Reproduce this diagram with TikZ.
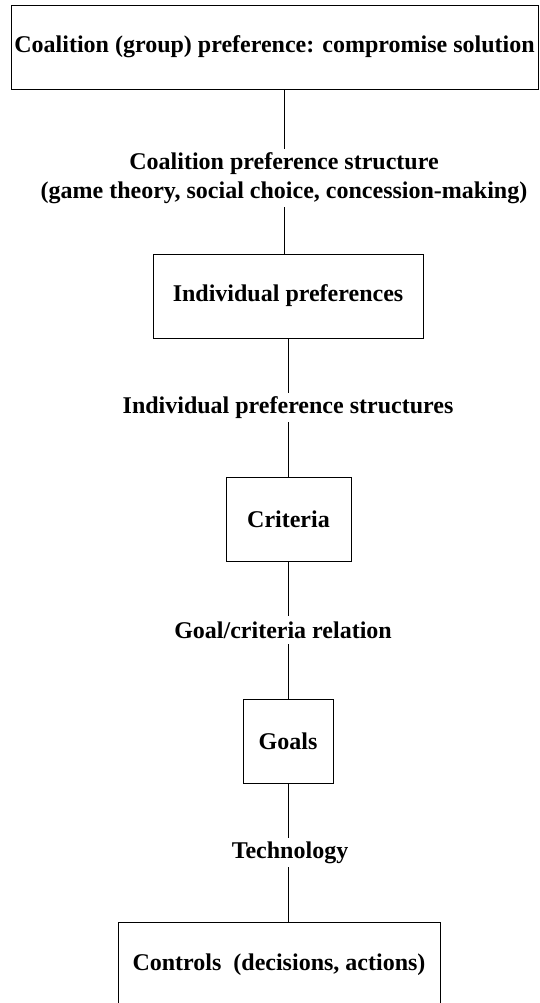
\documentclass[tikz,border=0pt]{standalone}
\usepackage{fontspec}
\setmainfont{Liberation Serif}
\usepackage{tikz}

\tikzset{
    box/.style={draw, line width=0.9pt, inner sep=0pt, minimum height=84pt},
    lbl/.style={inner sep=0pt, align=center},
}

\begin{document}
\begin{tikzpicture}[x=1pt, y=-1pt, line width=0.9pt,
    font=\fontsize{24}{29}\selectfont\bfseries]
    \useasboundingbox (0,0) rectangle (539,1003);
    \node[box, minimum width=527pt] (coal)  at (274.5, 47) {Coalition (group) preference: compromise solution};
    \node[box, minimum width=270pt] (indiv) at (288,  296) {Individual preferences};
    \node[box, minimum width=125pt] (crit)  at (288.5,519) {Criteria};
    \node[box, minimum width= 90pt] (goal)  at (288,  741) {Goals};
    \node[box, minimum width=322pt, minimum height=86pt] (ctrl) at (279, 965) {Controls~~(decisions, actions)};
    \node[lbl, minimum height=58pt] (cstruct) at (284, 178) {Coalition preference structure\\(game theory, social choice, concession-making)};
    \node[lbl, minimum height=29pt] (istruct) at (288, 407.5) {Individual preference structures};
    \node[lbl, minimum height=28pt] (relat)   at (283, 630) {Goal/criteria relation};
    \node[lbl, minimum height=29pt] (tech)    at (290, 852.5) {Technology};
    \draw (cstruct.north) -- (cstruct.north |- coal.south);
    \draw (cstruct.south) -- (cstruct.south |- indiv.north);
    \draw (indiv.south) -- (indiv.south |- istruct.north);
    \draw (indiv.south |- istruct.south) -- (crit.north -| indiv.south);
    \draw (crit.south) -- (crit.south |- relat.north);
    \draw (crit.south |- relat.south) -- (crit.south |- goal.north);
    \draw (goal.south) -- (goal.south |- tech.north);
    \draw (goal.south |- tech.south) -- (goal.south |- ctrl.north);
\end{tikzpicture}
\end{document}
